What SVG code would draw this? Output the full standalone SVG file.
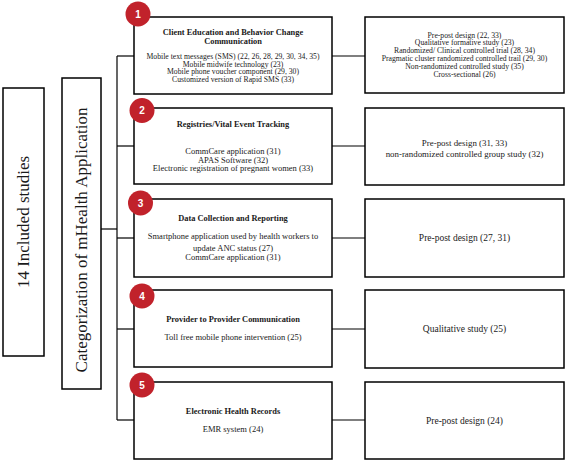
<svg xmlns="http://www.w3.org/2000/svg" width="567" height="462" viewBox="0 0 567 462">
<style>
.box{fill:#fff;stroke:#000;stroke-width:1.5}
.ln{fill:none;stroke:#000;stroke-width:1.2}
.t{font-family:"Liberation Serif","Times New Roman",serif;fill:#1a1a1a;text-anchor:middle}
.b{font-weight:bold}
.badge{fill:#c1222b}
.num{font-family:"Liberation Sans",Arial,sans-serif;font-weight:bold;font-size:10px;fill:#fff;text-anchor:middle}
</style>
<rect width="567" height="462" fill="#fff"/>
<g id="connectors">
<line class="ln" x1="101" y1="229" x2="117" y2="229"/>
<line class="ln" x1="117" y1="56" x2="117" y2="420"/>
<line class="ln" x1="117" y1="56" x2="134" y2="56"/>
<line class="ln" x1="117" y1="146" x2="134" y2="146"/>
<line class="ln" x1="117" y1="238" x2="134" y2="238"/>
<line class="ln" x1="117" y1="329" x2="134" y2="329"/>
<line class="ln" x1="117" y1="420" x2="134" y2="420"/>
<line class="ln" x1="332" y1="56" x2="365" y2="56"/>
<line class="ln" x1="332" y1="146" x2="365" y2="146"/>
<line class="ln" x1="332" y1="238" x2="365" y2="238"/>
<line class="ln" x1="332" y1="329" x2="365" y2="329"/>
<line class="ln" x1="332" y1="420" x2="365" y2="420"/>
</g>
<g id="n-included">
<rect class="box" x="3" y="88" width="41" height="268"/>
<text class="t" font-size="17" transform="translate(29,222) rotate(-90)">14 Included studies</text>
</g>
<g id="n-category">
<rect class="box" x="62" y="78" width="39" height="311"/>
<text class="t" font-size="17" transform="translate(87,240) rotate(-90)">Categorization of mHealth Application</text>
</g>
<g id="n-cat1">
<rect class="box" x="134" y="17" width="198" height="77"/>
<text class="t b" font-size="8.4" x="233" y="35">Client Education and Behavior Change</text>
<text class="t b" font-size="8.4" x="233" y="44">Communication</text>
<text class="t" font-size="7.7" x="233" y="59">Mobile text messages (SMS) (22, 26, 28, 29, 30, 34, 35)</text>
<text class="t" font-size="7.7" x="233" y="66.5">Mobile midwife technology (23)</text>
<text class="t" font-size="7.7" x="233" y="74">Mobile phone voucher component (29, 30)</text>
<text class="t" font-size="7.7" x="233" y="82">Customized version of Rapid SMS (33)</text>
<circle class="badge" cx="138" cy="14" r="12.5"/>
<text class="num" x="138" y="17.5">1</text>
</g>
<g id="n-design1">
<rect class="box" x="365" y="17" width="199" height="76"/>
<text class="t" font-size="7.7" x="464.5" y="37.5">Pre-post design (22, 33)</text>
<text class="t" font-size="7.7" x="464.5" y="45.3">Qualitative formative study (23)</text>
<text class="t" font-size="7.7" x="464.5" y="53">Randomized/ Clinical controlled trial (28, 34)</text>
<text class="t" font-size="7.7" x="464.5" y="61">Pragmatic cluster randomized controlled trail (29, 30)</text>
<text class="t" font-size="7.7" x="464.5" y="69">Non-randomized controlled study (35)</text>
<text class="t" font-size="7.7" x="464.5" y="77">Cross-sectional (26)</text>
</g>
<g id="n-cat2">
<rect class="box" x="134" y="108" width="198" height="76"/>
<text class="t b" font-size="8.4" x="233" y="127">Registries/Vital Event Tracking</text>
<text class="t" font-size="8.5" x="233" y="154">CommCare application (31)</text>
<text class="t" font-size="8.5" x="233" y="162.5">APAS Software (32)</text>
<text class="t" font-size="8.5" x="233" y="171">Electronic registration of pregnant women (33)</text>
<circle class="badge" cx="142" cy="110.5" r="12.5"/>
<text class="num" x="142" y="114">2</text>
</g>
<g id="n-design2">
<rect class="box" x="365" y="108" width="199" height="77"/>
<text class="t" font-size="8.9" x="464.5" y="146">Pre-post design (31, 33)</text>
<text class="t" font-size="8.9" x="464.5" y="157">non-randomized controlled group study (32)</text>
</g>
<g id="n-cat3">
<rect class="box" x="134" y="199" width="198" height="78"/>
<text class="t b" font-size="8.4" x="233" y="221">Data Collection and Reporting</text>
<text class="t" font-size="8.5" x="233" y="239">Smartphone application used by health workers to</text>
<text class="t" font-size="8.5" x="233" y="251">update ANC status (27)</text>
<text class="t" font-size="8.5" x="233" y="260">CommCare application (31)</text>
<circle class="badge" cx="140.5" cy="203" r="12.5"/>
<text class="num" x="140.5" y="206.5">3</text>
</g>
<g id="n-design3">
<rect class="box" x="365" y="199" width="199" height="78"/>
<text class="t" font-size="9.5" x="464.5" y="241">Pre-post design (27, 31)</text>
</g>
<g id="n-cat4">
<rect class="box" x="134" y="290" width="198" height="77"/>
<text class="t b" font-size="8.4" x="233" y="322">Provider to Provider Communication</text>
<text class="t" font-size="8.5" x="233" y="340">Toll free mobile phone intervention (25)</text>
<circle class="badge" cx="142" cy="296" r="12.5"/>
<text class="num" x="142" y="299.5">4</text>
</g>
<g id="n-design4">
<rect class="box" x="365" y="290" width="199" height="78"/>
<text class="t" font-size="9.5" x="464.5" y="332">Qualitative study (25)</text>
</g>
<g id="n-cat5">
<rect class="box" x="134" y="382" width="198" height="77"/>
<text class="t b" font-size="8.4" x="233" y="414">Electronic Health Records</text>
<text class="t" font-size="8.5" x="233" y="432">EMR system (24)</text>
<circle class="badge" cx="142" cy="385" r="12.5"/>
<text class="num" x="142" y="388.5">5</text>
</g>
<g id="n-design5">
<rect class="box" x="365" y="382" width="199" height="77"/>
<text class="t" font-size="9.5" x="464.5" y="424">Pre-post design (24)</text>
</g>
</svg>
